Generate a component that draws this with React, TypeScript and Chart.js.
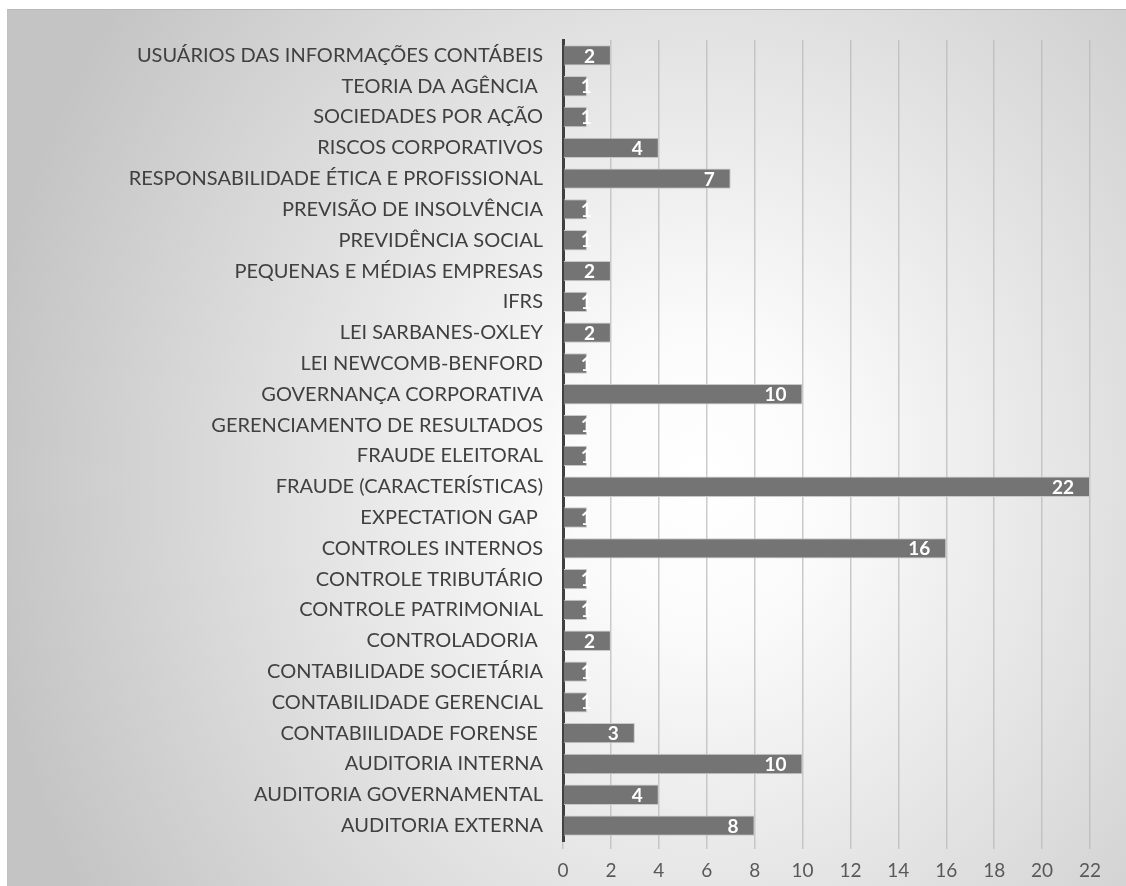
import React, { useEffect, useRef } from "react";
import { Chart, registerables } from "chart.js";

Chart.register(...registerables);

// Topics, listed top to bottom as they appear on the axis
const categories = [
  "USUÁRIOS DAS INFORMAÇÕES CONTÁBEIS",
  "TEORIA DA AGÊNCIA ",
  "SOCIEDADES POR AÇÃO",
  "RISCOS CORPORATIVOS",
  "RESPONSABILIDADE ÉTICA E PROFISSIONAL",
  "PREVISÃO DE INSOLVÊNCIA",
  "PREVIDÊNCIA SOCIAL",
  "PEQUENAS E MÉDIAS EMPRESAS",
  "IFRS",
  "LEI SARBANES-OXLEY",
  "LEI NEWCOMB-BENFORD",
  "GOVERNANÇA CORPORATIVA",
  "GERENCIAMENTO DE RESULTADOS",
  "FRAUDE ELEITORAL",
  "FRAUDE (CARACTERÍSTICAS)",
  "EXPECTATION GAP ",
  "CONTROLES INTERNOS",
  "CONTROLE TRIBUTÁRIO",
  "CONTROLE PATRIMONIAL",
  "CONTROLADORIA ",
  "CONTABILIDADE SOCIETÁRIA",
  "CONTABILIDADE GERENCIAL",
  "CONTABIILIDADE FORENSE ",
  "AUDITORIA INTERNA",
  "AUDITORIA GOVERNAMENTAL",
  "AUDITORIA EXTERNA",
];

// Number of publications per topic
const counts = [2, 1, 1, 4, 7, 1, 1, 2, 1, 2, 1, 10, 1, 1, 22, 1, 16, 1, 1, 2, 1, 1, 3, 10, 4, 8];

// Value axis
const xMin = 0;
const xMax = 22;
const xStep = 2;

const FONT = "Lato, 'Open Sans', 'Liberation Sans', sans-serif";

// White value labels placed inside the end of each bar
const barValueLabels = {
  id: "barValueLabels",
  afterDatasetsDraw(chart: any) {
    const { ctx } = chart;
    const meta = chart.getDatasetMeta(0);
    ctx.save();
    ctx.font = `bold 19px ${FONT}`;
    ctx.fillStyle = "#ffffff";
    ctx.textBaseline = "middle";
    ctx.textAlign = "left";
    meta.data.forEach((bar: any, i: number) => {
      const text = String(counts[i]);
      const w = ctx.measureText(text).width;
      const { x, y, base } = bar.getProps(["x", "y", "base"], true);
      let left = x - 16 - w;
      if (left < base + 17) left = base + 17;
      ctx.fillText(text, left, y + 1);
    });
    ctx.restore();
  },
};

export default function App() {
  const canvasRef = useRef<HTMLCanvasElement | null>(null);

  useEffect(() => {
    const canvas = canvasRef.current;
    if (!canvas) return;
    const chart = new Chart(canvas, {
      type: "bar",
      data: {
        labels: categories,
        datasets: [
          {
            data: counts,
            backgroundColor: "#747474",
            borderColor: "#c9c9c9",
            borderWidth: 1,
            barPercentage: 0.66,
            categoryPercentage: 1,
          },
        ],
      },
      plugins: [barValueLabels],
      options: {
        indexAxis: "y",
        responsive: false,
        animation: false,
        devicePixelRatio: 1,
        layout: { padding: { left: 0, right: 36, top: 40, bottom: 0 } },
        plugins: {
          legend: { display: false },
          tooltip: { enabled: false },
        },
        scales: {
          x: {
            type: "linear",
            min: xMin,
            max: xMax,
            afterFit(scale: any) {
              scale.height = 45;
            },
            ticks: {
              stepSize: xStep,
              color: "#595959",
              padding: 10,
              font: { family: FONT, size: 19 },
            },
            grid: {
              color: "rgba(185,185,185,0.75)",
              lineWidth: 1.5,
              drawTicks: true,
              tickLength: 8,
            },
            border: { display: false },
          },
          y: {
            afterFit(scale: any) {
              scale.width = 563;
            },
            ticks: {
              color: "#404040",
              padding: 12,
              autoSkip: false,
              font: { family: FONT, size: 20 },
            },
            grid: { display: false },
            border: { display: true, color: "#404040", width: 3 },
          },
        },
      },
    });
    return () => chart.destroy();
  }, []);

  return (
    <div
      style={{
        position: "fixed",
        left: 0,
        top: 0,
        width: 1126,
        height: 886,
        background: "#ffffff",
        overflow: "hidden",
      }}
    >
      <div
        style={{
          position: "absolute",
          left: 7,
          top: 9,
          width: 1200,
          height: 900,
          borderTop: "1px solid #b8b8b8",
          borderLeft: "1px solid #c2c2c2",
          background:
            "radial-gradient(ellipse 720px 820px at 693px 471px, #ffffff 0%, #fbfbfb 18%, #c4c4c4 100%)",
        }}
      />
      <canvas
        ref={canvasRef}
        width={1126}
        height={886}
        style={{ position: "absolute", left: 0, top: 0, width: 1126, height: 886 }}
      />
    </div>
  );
}
